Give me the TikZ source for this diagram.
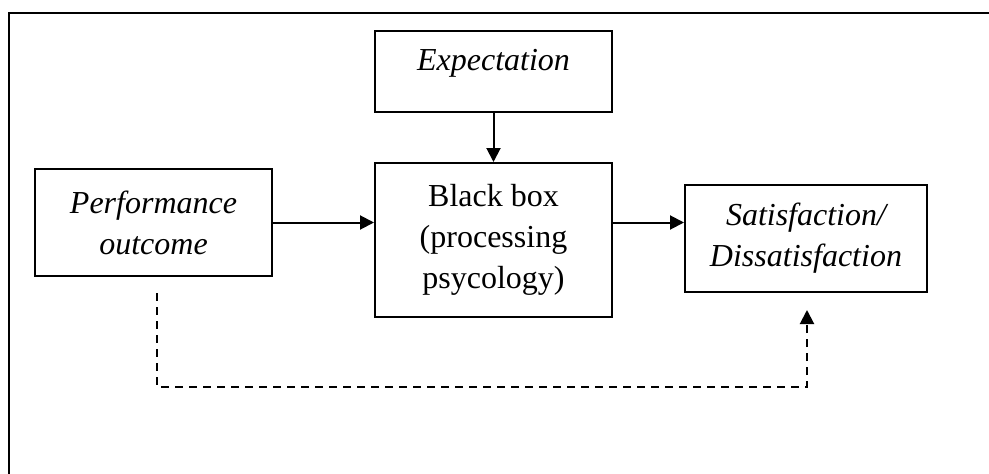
\documentclass[tikz,border=0pt]{standalone}
\usepackage{fontspec}
\setmainfont{Liberation Serif}
\usetikzlibrary{arrows.meta}

\begin{document}
\begin{tikzpicture}[x=1pt, y=-1pt,
    block/.style={draw, line width=2pt, align=center,
      font=\fontsize{32}{41}\selectfont, inner sep=2pt},
    link/.style={line width=2pt, -{Triangle[length=14pt, width=14pt]}},
    back/.style={link, dash pattern=on 8pt off 6pt}
  ]
    \useasboundingbox (0, 0) rectangle (989, 474);
    % frame, cut off at the right and bottom
    \draw[line width=2.2pt] (995, 13) -- (9, 13) -- (9, 480);

    \node[block, minimum width=237, minimum height=81, text depth=24pt] (exp) at (493.5, 71.5) {\itshape Expectation};
    \node[block, minimum width=237, minimum height=154] (black) at (493.5, 240) {Black box\\(processing\\psycology)};
    \node[block, minimum width=237, minimum height=107] (perf) at (153.5, 222.5) {\itshape Performance\\\itshape outcome};
    \node[block, minimum width=242, minimum height=107] (sat) at (806, 238.5) {\itshape Satisfaction/\\\itshape Dissatisfaction};

    \draw[link] (exp) -- (black);
    \draw[link] (perf.east) -- (perf.east -| black.west);
    \draw[link] (black.east |- perf.east) -- (sat.west |- perf.east);

    % dashed way round the black box
    \coordinate (dstart) at (157, 293);
    \coordinate (dend) at (807, 310);
    \draw[back] (dstart) -- (157, 387) -- (dend |- 0, 387) -- (dend);
\end{tikzpicture}
\end{document}
